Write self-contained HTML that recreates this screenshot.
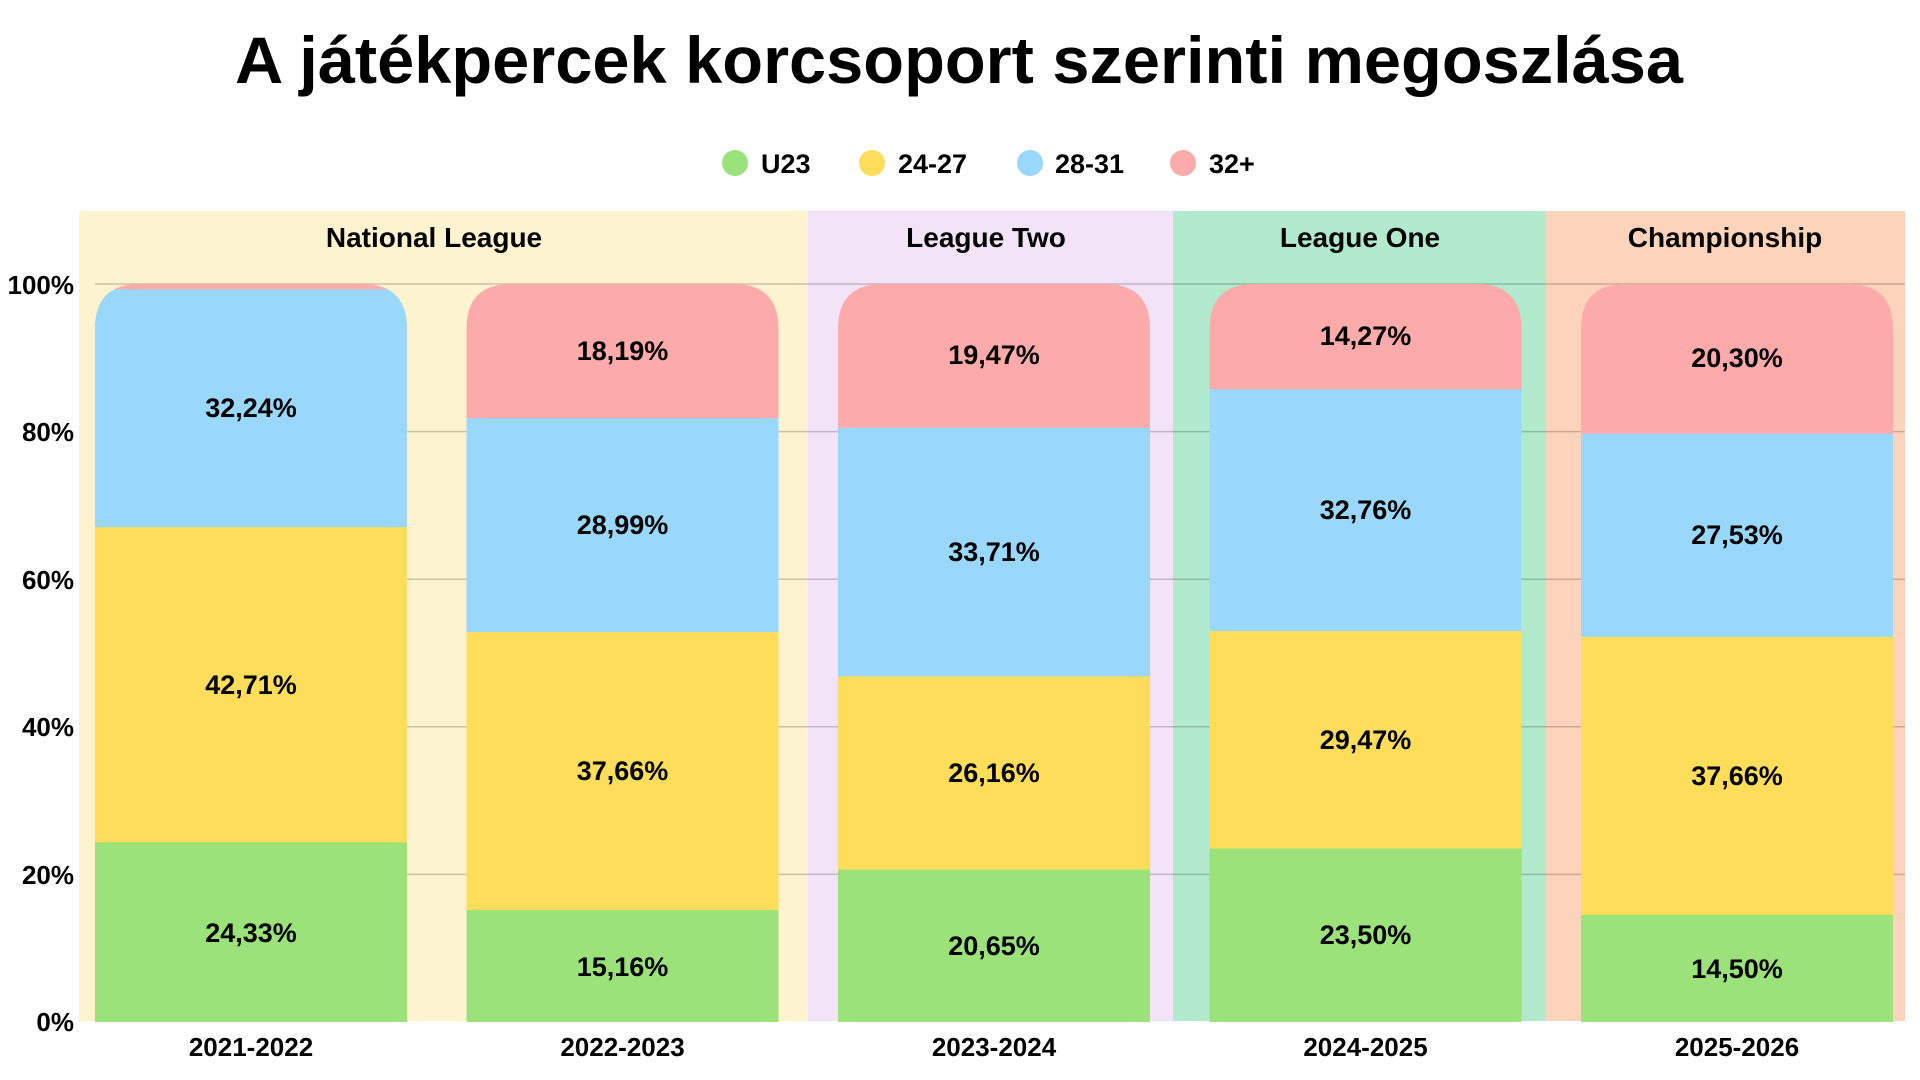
<!DOCTYPE html>
<html><head><meta charset="utf-8"><style>
html,body{margin:0;padding:0;background:#fff;}
svg{display:block;}
text{font-family:"Liberation Sans","DejaVu Sans",sans-serif;font-weight:bold;fill:#000;}
</style></head><body>
<svg width="1920" height="1080" viewBox="0 0 1920 1080" xmlns="http://www.w3.org/2000/svg">
<text x="959" y="83" font-size="66" text-anchor="middle" textLength="1448" lengthAdjust="spacingAndGlyphs">A játékpercek korcsoport szerinti megoszlása</text>
<circle cx="735" cy="163" r="13" fill="#9be27a"/><text x="761" y="173" font-size="27">U23</text>
<circle cx="872" cy="163" r="13" fill="#fedd5a"/><text x="898" y="173" font-size="27">24-27</text>
<circle cx="1030" cy="163" r="13" fill="#9ad8fb"/><text x="1055" y="173" font-size="27">28-31</text>
<circle cx="1183" cy="163" r="13" fill="#fdaaab"/><text x="1209" y="173" font-size="27">32+</text>
<rect x="79" y="211" width="729" height="810" fill="#fef3cf"/>
<rect x="808" y="211" width="365" height="810" fill="#f3e3f7"/>
<rect x="1173" y="211" width="373" height="810" fill="#b2eacd"/>
<rect x="1546" y="211" width="359" height="810" fill="#fdd4bb"/>
<text x="434" y="247" font-size="28" text-anchor="middle">National League</text>
<text x="986" y="247" font-size="28" text-anchor="middle">League Two</text>
<text x="1360" y="247" font-size="28" text-anchor="middle">League One</text>
<text x="1725" y="247" font-size="28" text-anchor="middle">Championship</text>
<g stroke="#000" stroke-opacity="0.2" stroke-width="1.5">
<line x1="95" x2="1905" y1="284" y2="284"/>
<line x1="95" x2="1905" y1="431.6" y2="431.6"/>
<line x1="95" x2="1905" y1="579.2" y2="579.2"/>
<line x1="95" x2="1905" y1="726.8" y2="726.8"/>
<line x1="95" x2="1905" y1="874.4" y2="874.4"/>
</g>
<g font-size="26" text-anchor="end">
<text x="74" y="294">100%</text>
<text x="74" y="441">80%</text>
<text x="74" y="589">60%</text>
<text x="74" y="736">40%</text>
<text x="74" y="884">20%</text>
<text x="74" y="1031">0%</text>
</g>
<defs>
<clipPath id="c1"><path d="M95 1022 V329 Q95 284 140 284 H362 Q407 284 407 329 V1022 Z"/></clipPath>
<clipPath id="c2"><path d="M466.5 1022 V329 Q466.5 284 511.5 284 H733.5 Q778.5 284 778.5 329 V1022 Z"/></clipPath>
<clipPath id="c3"><path d="M838 1022 V329 Q838 284 883 284 H1105 Q1150 284 1150 329 V1022 Z"/></clipPath>
<clipPath id="c4"><path d="M1209.5 1022 V329 Q1209.5 284 1254.5 284 H1476.5 Q1521.5 284 1521.5 329 V1022 Z"/></clipPath>
<clipPath id="c5"><path d="M1581 1022 V329 Q1581 284 1626 284 H1848 Q1893 284 1893 329 V1022 Z"/></clipPath>
</defs>
<g clip-path="url(#c1)">
<rect x="95" y="280" width="312" height="742" fill="#fdaaab"/>
<rect x="95" y="289.3" width="312" height="732.7" fill="#9ad8fb"/>
<rect x="95" y="527.2" width="312" height="494.8" fill="#fedd5a"/>
<rect x="95" y="842.4" width="312" height="179.6" fill="#9be27a"/>
</g>
<g clip-path="url(#c2)">
<rect x="466.5" y="280" width="312" height="742" fill="#fdaaab"/>
<rect x="466.5" y="418.2" width="312" height="603.8" fill="#9ad8fb"/>
<rect x="466.5" y="632.1" width="312" height="389.9" fill="#fedd5a"/>
<rect x="466.5" y="910.1" width="312" height="111.9" fill="#9be27a"/>
</g>
<g clip-path="url(#c3)">
<rect x="838" y="280" width="312" height="742" fill="#fdaaab"/>
<rect x="838" y="427.7" width="312" height="594.3" fill="#9ad8fb"/>
<rect x="838" y="676.5" width="312" height="345.5" fill="#fedd5a"/>
<rect x="838" y="869.6" width="312" height="152.4" fill="#9be27a"/>
</g>
<g clip-path="url(#c4)">
<rect x="1209.5" y="280" width="312" height="742" fill="#fdaaab"/>
<rect x="1209.5" y="389.3" width="312" height="632.7" fill="#9ad8fb"/>
<rect x="1209.5" y="631.1" width="312" height="390.9" fill="#fedd5a"/>
<rect x="1209.5" y="848.6" width="312" height="173.4" fill="#9be27a"/>
</g>
<g clip-path="url(#c5)">
<rect x="1581" y="280" width="312" height="742" fill="#fdaaab"/>
<rect x="1581" y="433.7" width="312" height="588.3" fill="#9ad8fb"/>
<rect x="1581" y="636.9" width="312" height="385.1" fill="#fedd5a"/>
<rect x="1581" y="915.0" width="312" height="107" fill="#9be27a"/>
</g>
<g font-size="27" text-anchor="middle">
<text x="251" y="417">32,24%</text>
<text x="251" y="694">42,71%</text>
<text x="251" y="942">24,33%</text>
<text x="622.5" y="360">18,19%</text>
<text x="622.5" y="534">28,99%</text>
<text x="622.5" y="780">37,66%</text>
<text x="622.5" y="976">15,16%</text>
<text x="994" y="364">19,47%</text>
<text x="994" y="561">33,71%</text>
<text x="994" y="782">26,16%</text>
<text x="994" y="955">20,65%</text>
<text x="1365.5" y="345">14,27%</text>
<text x="1365.5" y="519">32,76%</text>
<text x="1365.5" y="749">29,47%</text>
<text x="1365.5" y="944">23,50%</text>
<text x="1737" y="367">20,30%</text>
<text x="1737" y="544">27,53%</text>
<text x="1737" y="785">37,66%</text>
<text x="1737" y="978">14,50%</text>
</g>
<g font-size="26" text-anchor="middle">
<text x="251" y="1056">2021-2022</text>
<text x="622.5" y="1056">2022-2023</text>
<text x="994" y="1056">2023-2024</text>
<text x="1365.5" y="1056">2024-2025</text>
<text x="1737" y="1056">2025-2026</text>
</g>
</svg>
</body></html>
